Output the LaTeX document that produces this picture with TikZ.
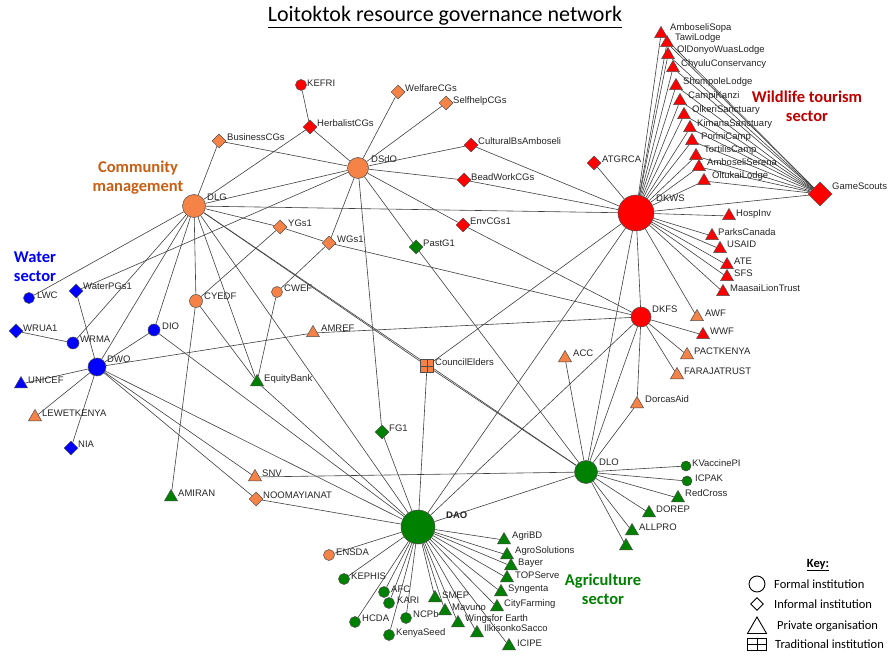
\documentclass[tikz,border=0pt]{standalone}
\usepackage{fontspec}
\setmainfont{Liberation Sans}
\newfontfamily\calib{Carlito}
\usetikzlibrary{shapes.geometric,backgrounds}

\definecolor{instred}{RGB}{255,0,0}
\definecolor{instorange}{RGB}{245,130,70}
\definecolor{instgreen}{RGB}{0,128,0}
\definecolor{instblue}{RGB}{0,0,255}
\definecolor{commtext}{RGB}{200,95,20}
\definecolor{wildtext}{RGB}{192,0,0}

\tikzset{
  formal/.style={circle, draw=black!70, line width=0.5pt, inner sep=0pt, minimum size=11pt},
  informal/.style={diamond, draw=black!70, line width=0.5pt, inner sep=0pt, minimum width=14pt, minimum height=14pt},
  private/.style={regular polygon, regular polygon sides=3, draw=black!70, line width=0.5pt, inner sep=0pt, minimum size=15pt},
  traditional/.style={rectangle, draw=black!70, line width=0.5pt, inner sep=0pt, minimum size=13pt,
    path picture={\draw[black!70, line width=0.5pt] (path picture bounding box.north) -- (path picture bounding box.south)
      (path picture bounding box.west) -- (path picture bounding box.east);}},
  lbl/.style={anchor=base west, inner sep=0pt, yshift=-3.4pt, font=\fontsize{9.5}{11}\selectfont, text=black!85},
  tie/.style={draw=black!75, line width=0.6pt},
  sector/.style={font=\calib\bfseries\fontsize{16.5}{19}\selectfont, align=center},
  keysym/.style={draw=black, line width=0.9pt, fill=white, inner sep=0pt},
  keytext/.style={anchor=base west, inner sep=0pt, yshift=-4.4pt, font=\calib\fontsize{12.5}{14}\selectfont},
}

\begin{document}
\begin{tikzpicture}[x=1pt, y=-1pt]
\useasboundingbox (0,0) rectangle (889,660);

\node[font=\calib\fontsize{22}{26}\selectfont] at (445,17) (title) {\underline{Loitoktok resource governance network}};

% sector names
\node[sector, text=commtext] at (138,178) (commsector) {Community\\management};
\node[sector, text=wildtext] at (807,106) (wildsector) {Wildlife tourism\\sector};
\node[sector, text=instblue] at (35,267) (watersector) {Water\\sector};
\node[sector, text=instgreen] at (603,589) (agrisector) {Agriculture\\sector};

% wildlife tourism
\node[formal, fill=instred, minimum size=36pt] at (636,213) (dkws) {};
\node[lbl] at (656,198) (dkws-l) {DKWS};
\node[informal, fill=instred, minimum width=24pt, minimum height=24pt] at (820,194) (game) {};
\node[lbl] at (832,186) (game-l) {GameScouts};
\node[private, fill=instred] at (661,34) (sopa) {};
\node[lbl] at (670,27) (sopa-l) {AmboseliSopa};
\node[private, fill=instred] at (667,43) (tawi) {};
\node[lbl] at (675,37) (tawi-l) {TawiLodge};
\node[private, fill=instred] at (668,55) (oldonyo) {};
\node[lbl] at (677,49) (oldonyo-l) {OlDonyoWuasLodge};
\node[private, fill=instred] at (673,68) (chyulu) {};
\node[lbl] at (681,63) (chyulu-l) {ChyuluConservancy};
\node[private, fill=instred] at (676,86) (shompole) {};
\node[lbl] at (683,81) (shompole-l) {ShompoleLodge};
\node[private, fill=instred] at (680,101) (kanzi) {};
\node[lbl] at (688,95) (kanzi-l) {CampiKanzi};
\node[private, fill=instred] at (684,115) (olkeri) {};
\node[lbl] at (692,109) (olkeri-l) {OlkeriSanctuary};
\node[private, fill=instred] at (690,128) (kimana) {};
\node[lbl] at (697,123) (kimana-l) {KimanaSanctuary};
\node[private, fill=instred] at (692,141) (porini) {};
\node[lbl] at (701,136) (porini-l) {PoriniCamp};
\node[private, fill=instred] at (696,156) (tortilis) {};
\node[lbl] at (704,149) (tortilis-l) {TortilisCamp};
\node[private, fill=instred] at (699,167) (serena) {};
\node[lbl] at (707,162) (serena-l) {AmboseliSerena};
\node[private, fill=instred] at (704,181) (oltukai) {};
\node[lbl] at (712,175) (oltukai-l) {OltukaiLodge};
\node[informal, fill=instred] at (594,163) (atgrca) {};
\node[lbl] at (602,159) (atgrca-l) {ATGRCA};
\node[private, fill=instred] at (729,216) (hosp) {};
\node[lbl] at (736,213) (hosp-l) {HospInv};
\node[private, fill=instred] at (712,236) (parks) {};
\node[lbl] at (718,232) (parks-l) {ParksCanada};
\node[private, fill=instred] at (720,249) (usaid) {};
\node[lbl] at (727,244) (usaid-l) {USAID};
\node[private, fill=instred] at (727,265) (ate) {};
\node[lbl] at (734,261) (ate-l) {ATE};
\node[private, fill=instred] at (727,277) (sfs) {};
\node[lbl] at (734,273) (sfs-l) {SFS};
\node[private, fill=instred] at (723,292) (maasai) {};
\node[lbl] at (730,288) (maasai-l) {MaasaiLionTrust};

% forest
\node[formal, fill=instred, minimum size=20pt] at (641,317) (dkfs) {};
\node[lbl] at (652,309) (dkfs-l) {DKFS};
\node[private, fill=instorange] at (697,317) (awf) {};
\node[lbl] at (705,313) (awf-l) {AWF};
\node[private, fill=instred] at (703,335) (wwf) {};
\node[lbl] at (710,331) (wwf-l) {WWF};
\node[private, fill=instorange] at (687,355) (pact) {};
\node[lbl] at (694,351) (pact-l) {PACTKENYA};
\node[private, fill=instorange] at (677,375) (faraja) {};
\node[lbl] at (684,371) (faraja-l) {FARAJATRUST};
\node[private, fill=instorange] at (637,404) (dorcas) {};
\node[lbl] at (645,399) (dorcas-l) {DorcasAid};

% community management
\node[formal, fill=instorange, minimum size=23pt] at (194,206) (dlg) {};
\node[lbl] at (207,197) (dlg-l) {DLG};
\node[formal, fill=instorange, minimum size=21pt] at (358,168) (dsdo) {};
\node[lbl] at (371,159) (dsdo-l) {DSdO};
\node[formal, fill=instred] at (301,85) (kefri) {};
\node[lbl] at (307,83) (kefri-l) {KEFRI};
\node[informal, fill=instred] at (310,127) (herb) {};
\node[lbl] at (317,123) (herb-l) {HerbalistCGs};
\node[informal, fill=instorange] at (398,92) (welf) {};
\node[lbl] at (405,88) (welf-l) {WelfareCGs};
\node[informal, fill=instorange] at (446,103) (selfh) {};
\node[lbl] at (453,100) (selfh-l) {SelfhelpCGs};
\node[informal, fill=instorange] at (219,141) (busi) {};
\node[lbl] at (227,137) (busi-l) {BusinessCGs};
\node[informal, fill=instred] at (471,145) (cult) {};
\node[lbl] at (478,141) (cult-l) {CulturalBsAmboseli};
\node[informal, fill=instred] at (464,180) (bead) {};
\node[lbl] at (471,177) (bead-l) {BeadWorkCGs};
\node[informal, fill=instred] at (463,225) (envcg) {};
\node[lbl] at (470,221) (envcg-l) {EnvCGs1};
\node[informal, fill=instorange] at (280,227) (ygs) {};
\node[lbl] at (288,223) (ygs-l) {YGs1};
\node[informal, fill=instorange] at (329,243) (wgs) {};
\node[lbl] at (337,239) (wgs-l) {WGs1};
\node[informal, fill=instgreen] at (416,247) (pastg) {};
\node[lbl] at (423,243) (pastg-l) {PastG1};
\node[formal, fill=instorange, minimum size=13pt] at (196,301) (cyedf) {};
\node[lbl] at (204,296) (cyedf-l) {CYEDF};
\node[formal, fill=instorange] at (277,292) (cwef) {};
\node[lbl] at (284,288) (cwef-l) {CWEF};
\node[private, fill=instorange] at (313,333) (amref) {};
\node[lbl] at (321,328) (amref-l) {AMREF};
\node[private, fill=instgreen] at (257,382) (equity) {};
\node[lbl] at (264,378) (equity-l) {EquityBank};
\node[traditional, fill=instorange] at (427,366) (council) {};
\node[lbl] at (435,362) (council-l) {CouncilElders};
\node[private, fill=instorange] at (565,358) (acc) {};
\node[lbl] at (573,353) (acc-l) {ACC};
\node[informal, fill=instgreen] at (382,432) (fg) {};
\node[lbl] at (389,428) (fg-l) {FG1};

% water
\node[formal, fill=instblue, minimum size=18pt] at (97,367) (dwo) {};
\node[lbl] at (107,359) (dwo-l) {DWO};
\node[formal, fill=instblue] at (29,298) (lwc) {};
\node[lbl] at (37,295) (lwc-l) {LWC};
\node[informal, fill=instblue] at (76,291) (waterpg) {};
\node[lbl] at (83,286) (waterpg-l) {WaterPGs1};
\node[informal, fill=instblue] at (16,331) (wrua) {};
\node[lbl] at (23,328) (wrua-l) {WRUA1};
\node[formal, fill=instblue, minimum size=12pt] at (73,343) (wrma) {};
\node[lbl] at (80,339) (wrma-l) {WRMA};
\node[formal, fill=instblue, minimum size=12pt] at (154,330) (dio) {};
\node[lbl] at (162,326) (dio-l) {DIO};
\node[private, fill=instblue] at (21,384) (unicef) {};
\node[lbl] at (28,380) (unicef-l) {UNICEF};
\node[private, fill=instorange] at (35,417) (lewet) {};
\node[lbl] at (42,413) (lewet-l) {LEWETKENYA};
\node[informal, fill=instblue] at (71,448) (nia) {};
\node[lbl] at (78,444) (nia-l) {NIA};

% agriculture
\node[formal, fill=instgreen, minimum size=34pt] at (418,527) (dao) {};
\node[lbl, font=\bfseries\fontsize{9.5}{11}\selectfont] at (446,515) (dao-l) {DAO};
\node[formal, fill=instgreen, minimum size=23pt] at (586,472) (dlo) {};
\node[lbl] at (599,462) (dlo-l) {DLO};
\node[private, fill=instorange] at (255,477) (snv) {};
\node[lbl] at (262,473) (snv-l) {SNV};
\node[private, fill=instgreen] at (171,497) (amiran) {};
\node[lbl] at (178,493) (amiran-l) {AMIRAN};
\node[informal, fill=instorange] at (256,499) (noomay) {};
\node[lbl] at (263,495) (noomay-l) {NOOMAYIANAT};
\node[formal, fill=instorange] at (329,555) (ensda) {};
\node[lbl] at (336,552) (ensda-l) {ENSDA};
\node[formal, fill=instgreen] at (344,579) (kephis) {};
\node[lbl] at (351,576) (kephis-l) {KEPHIS};
\node[formal, fill=instgreen] at (384,592) (afc) {};
\node[lbl] at (391,589) (afc-l) {AFC};
\node[formal, fill=instgreen] at (389,603) (kari) {};
\node[lbl] at (397,600) (kari-l) {KARI};
\node[formal, fill=instgreen] at (355,622) (hcda) {};
\node[lbl] at (362,618) (hcda-l) {HCDA};
\node[formal, fill=instgreen] at (406,618) (ncpb) {};
\node[lbl] at (413,614) (ncpb-l) {NCPb};
\node[formal, fill=instgreen] at (389,635) (kseed) {};
\node[lbl] at (396,632) (kseed-l) {KenyaSeed};
\node[private, fill=instgreen] at (435,598) (smep) {};
\node[lbl] at (442,595) (smep-l) {SMEP};
\node[private, fill=instgreen] at (445,611) (mavuno) {};
\node[lbl] at (452,607) (mavuno-l) {Mavuno};
\node[private, fill=instgreen] at (458,623) (wings) {};
\node[lbl] at (465,618) (wings-l) {Wingsfor Earth};
\node[private, fill=instgreen] at (477,633) (ilkis) {};
\node[lbl] at (484,628) (ilkis-l) {IlkisonkoSacco};
\node[private, fill=instgreen] at (509,646) (icipe) {};
\node[lbl] at (517,643) (icipe-l) {ICIPE};
\node[private, fill=instgreen] at (504,540) (agribd) {};
\node[lbl] at (512,535) (agribd-l) {AgriBD};
\node[private, fill=instgreen] at (507,555) (agrosol) {};
\node[lbl] at (515,550) (agrosol-l) {AgroSolutions};
\node[private, fill=instgreen] at (511,566) (bayer) {};
\node[lbl] at (518,562) (bayer-l) {Bayer};
\node[private, fill=instgreen] at (507,578) (topserve) {};
\node[lbl] at (515,575) (topserve-l) {TOPServe};
\node[private, fill=instgreen] at (501,592) (syngenta) {};
\node[lbl] at (508,588) (syngenta-l) {Syngenta};
\node[private, fill=instgreen] at (497,607) (cityf) {};
\node[lbl] at (504,603) (cityf-l) {CityFarming};
\node[formal, fill=instgreen, minimum size=10pt] at (686,466) (kvacc) {};
\node[lbl] at (692,463) (kvacc-l) {KVaccinePI};
\node[formal, fill=instgreen, minimum size=10pt] at (687,481) (icpak) {};
\node[lbl] at (695,478) (icpak-l) {ICPAK};
\node[private, fill=instgreen] at (678,498) (redcross) {};
\node[lbl] at (685,493) (redcross-l) {RedCross};
\node[private, fill=instgreen] at (649,513) (dorep) {};
\node[lbl] at (656,509) (dorep-l) {DOREP};
\node[private, fill=instgreen] at (632,531) (allpro) {};
\node[lbl] at (639,527) (allpro-l) {ALLPRO};
\node[private, fill=instgreen] at (626,546) (dlotri) {};

\begin{pgfonlayer}{background}
\fill[white] (0,0) rectangle (889,660);
\path[tie] (dkws) edge (sopa) edge (tawi) edge (oldonyo) edge (chyulu) edge (shompole) edge (kanzi)
  edge (olkeri) edge (kimana) edge (porini) edge (tortilis) edge (serena) edge (oltukai)
  edge (game) edge (hosp) edge (parks) edge (usaid) edge (ate) edge (sfs) edge (maasai)
  edge (atgrca) edge (cult) edge (bead) edge (dkfs) edge (awf) edge (council) edge (dao) edge (dlo);
\path[tie] (game) edge (sopa) edge (tawi) edge (oldonyo) edge (chyulu) edge (shompole) edge (kanzi)
  edge (olkeri) edge (kimana) edge (porini) edge (tortilis) edge (serena) edge (oltukai);
\path[tie] (dkfs) edge (wwf) edge (pact) edge (faraja) edge (dorcas) edge (dlo) edge (amref)
  edge (wgs) edge (envcg) edge (dao);
\path[tie] (dlo) edge (kvacc) edge (icpak) edge (redcross) edge (dorep) edge (allpro) edge (dlotri)
  edge (acc) edge (dorcas) edge (dao) edge (snv) edge (council) edge (dlg) edge (pastg);
\path[tie] (dao) edge (ensda) edge (kephis) edge (afc) edge (kari) edge (hcda) edge (ncpb) edge (kseed)
  edge (smep) edge (mavuno) edge (wings) edge (ilkis) edge (icipe) edge (agribd) edge (agrosol)
  edge (bayer) edge (topserve) edge (syngenta) edge (cityf) edge (noomay) edge (council) edge (fg)
  edge (equity) edge (dlg) edge (dwo) edge (dio);
\path[tie] (dlg) edge (busi) edge (herb) edge (dsdo) edge (dkws) edge (ygs) edge (lwc) edge (wrma)
  edge (dwo) edge (dio) edge (cyedf) edge (equity) edge (council);
\path[tie] (dsdo) edge (herb) edge (welf) edge (selfh) edge (busi) edge (cult) edge (bead) edge (envcg)
  edge (wgs) edge (pastg) edge (fg) edge (waterpg);
\path[tie] (ygs) edge (wgs) edge (cyedf);
\path[tie] (wgs) edge (cwef);
\path[tie] (dwo) edge (waterpg) edge (dio) edge (amref) edge (unicef) edge (lewet) edge (nia)
  edge (snv) edge (noomay);
\path[tie] (wrma) edge (wrua);
\path[tie] (cyedf) edge (equity) edge (amiran);
\path[tie] (cwef) edge (equity);
\path[tie] (kefri) edge (herb);
\end{pgfonlayer}

% key
\node[font=\calib\bfseries\fontsize{12.5}{14}\selectfont] at (818,565) (keyhead) {\underline{Key:}};
\node[keysym, circle, minimum size=16pt] at (757,584) (keyformal) {};
\node[keytext] at (774,584) (keyformal-l) {Formal institution};
\node[keysym, diamond, minimum width=13pt, minimum height=13pt] at (757,604) (keyinformal) {};
\node[keytext] at (774,604) (keyinformal-l) {Informal institution};
\node[keysym, regular polygon, regular polygon sides=3, minimum size=22pt] at (757,628) (keyprivate) {};
\node[keytext] at (777,625) (keyprivate-l) {Private organisation};
\node[keysym, rectangle, minimum width=19pt, minimum height=12pt,
  path picture={\draw[line width=0.9pt] (path picture bounding box.north) -- (path picture bounding box.south)
    (path picture bounding box.west) -- (path picture bounding box.east);}] at (757,644) (keytrad) {};
\node[keytext] at (775,644) (keytrad-l) {Traditional institution};
\end{tikzpicture}
\end{document}
